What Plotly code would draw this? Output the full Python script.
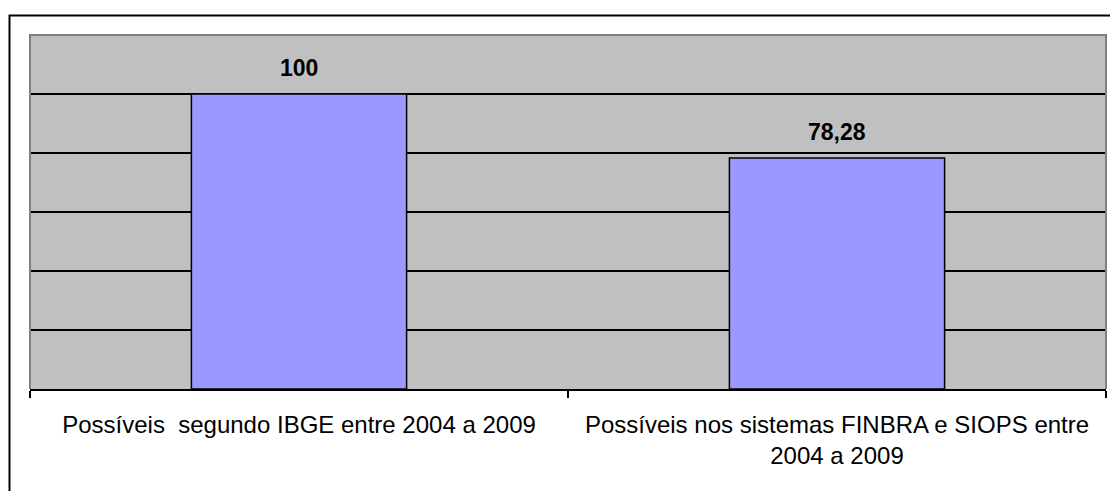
import plotly.graph_objects as go

# Municípios: possíveis segundo IBGE vs. possíveis nos sistemas FINBRA/SIOPS
categorias = [
    "Possíveis\u00a0 segundo IBGE entre 2004 a 2009",
    "Possíveis nos sistemas FINBRA e SIOPS entre<br>2004 a 2009",
]
valores = [100, 78.28]
grade = [20, 40, 60, 80, 100]
faixa_y = [0, 120]

FONTE = "Liberation Sans, Arial, sans-serif"

W, H = 1110, 491
ML, MR, MT, MB = 30, 4, 35, 102
plot_w = W - ML - MR
plot_h = H - MT - MB


def px_x(px):
    return (px - ML) / plot_w


def px_y(py):
    return (H - MB - py) / plot_h


fig = go.Figure(
    go.Bar(
        x=categorias,
        y=valores,
        width=0.4,
        marker=dict(color="#9999FF", line=dict(color="black", width=1.5)),
        hoverinfo="x+y",
    )
)

# rótulos de valor acima das barras
for cat, v in zip(categorias, valores):
    fig.add_annotation(
        x=cat, y=v, xref="x", yref="y",
        text=f"{v:g}".replace(".", ","),
        showarrow=False, yanchor="middle", yshift=26,
        font=dict(family=FONTE, size=23, color="black", weight="bold"),
    )

# contorno cinza da área de plotagem (esquerda, topo, direita)
fig.add_shape(
    type="path", xref="paper", yref="paper",
    path="M 0,0 L 0,1 L 1,1 L 1,0",
    line=dict(color="#808080", width=2), layer="above",
)

# moldura externa do gráfico
fig.add_shape(
    type="path", xref="paper", yref="paper",
    path=f"M {px_x(1120)},{px_y(15.5)} L {px_x(9.5)},{px_y(15.5)} L {px_x(9.5)},{px_y(500)}",
    line=dict(color="black", width=2), layer="above",
)

fig.update_layout(
    width=W, height=H,
    margin=dict(l=ML, r=MR, t=MT, b=MB, pad=0),
    paper_bgcolor="white",
    plot_bgcolor="#C0C0C0",
    showlegend=False,
    font=dict(family=FONTE, color="black"),
    bargap=0.6,
)

fig.update_xaxes(
    type="category",
    showline=True, linecolor="black", linewidth=2,
    ticks="outside", tickson="boundaries", ticklen=7,
    tickcolor="black", tickwidth=1.5,
    showgrid=False,
    tickfont=dict(family=FONTE, size=24, color="black"),
    ticklabelstandoff=13,
)

fig.update_yaxes(
    range=faixa_y,
    tickvals=grade,
    showticklabels=False,
    showgrid=True, gridcolor="black", gridwidth=1.5,
    zeroline=False, showline=False, ticks="",
)

fig.write_html("out.html")
